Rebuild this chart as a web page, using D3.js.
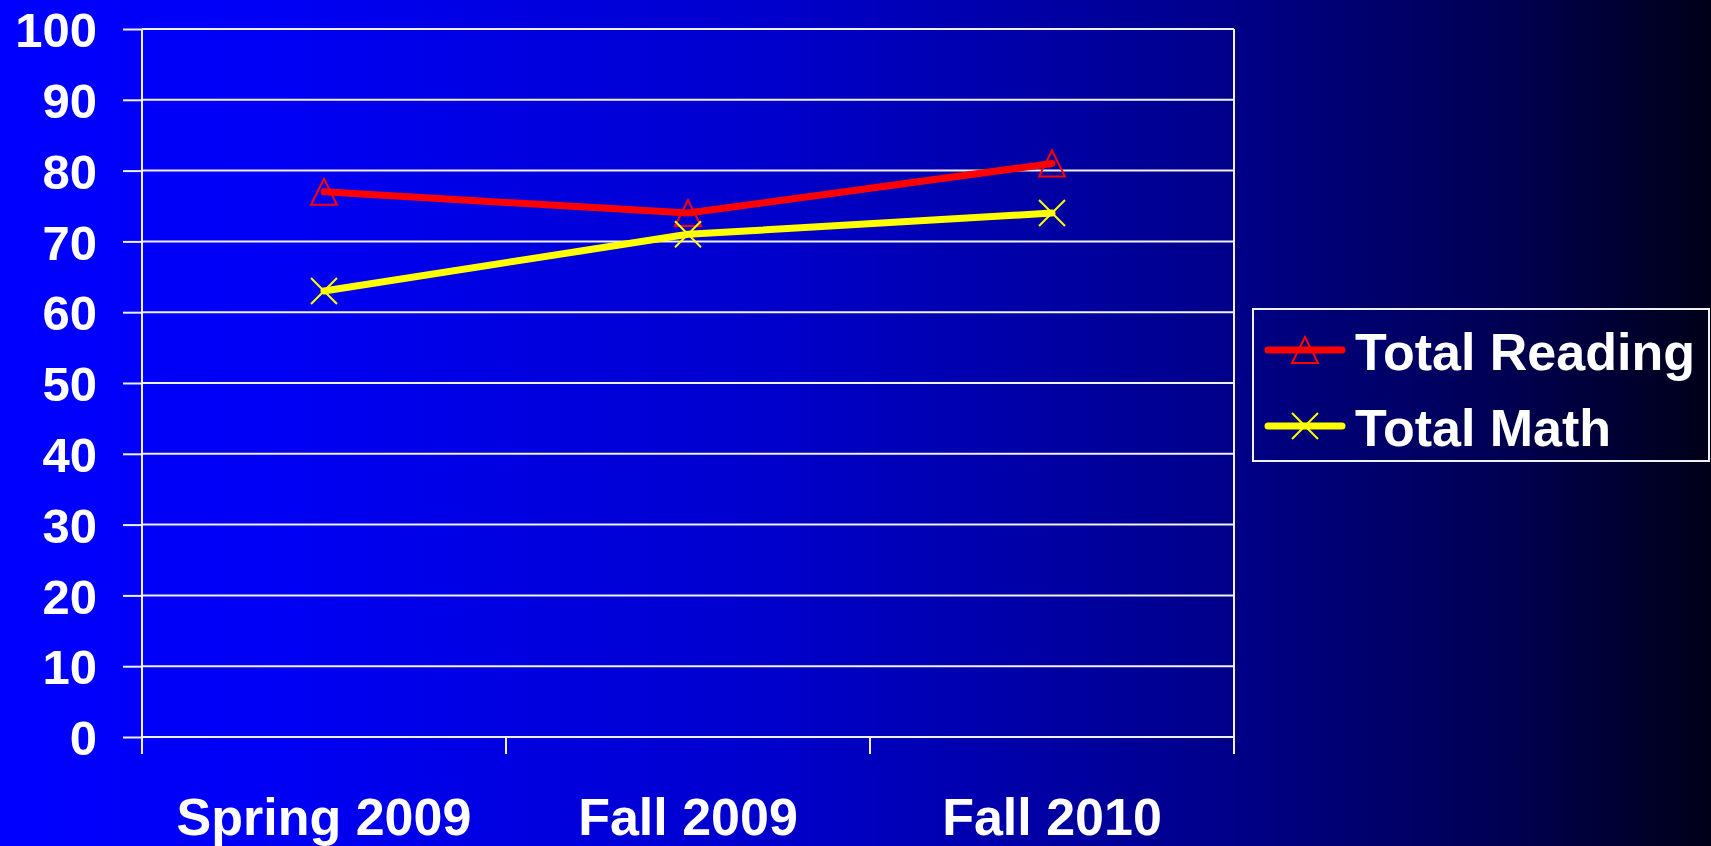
<!DOCTYPE html>
<html>
<head>
<meta charset="utf-8">
<script src="https://cdn.jsdelivr.net/npm/d3@7"></script>
<style>
  html, body { margin: 0; padding: 0; overflow: hidden; }
  svg { display: block; }
  text { font-family: "Liberation Sans", Arial, sans-serif; font-weight: bold; fill: #ffffff; }
</style>
</head>
<body>
<script>
const categories = ["Spring 2009", "Fall 2009", "Fall 2010"];
const readingValues = [77, 74, 81];
const mathValues = [63, 71, 74];
const seriesNames = ["Total Reading", "Total Math"];
const yTicks = [0, 10, 20, 30, 40, 50, 60, 70, 80, 90, 100];

const W = 1711, H = 846;
const plot = { left: 142, right: 1234, top: 29, bottom: 737 };

const svg = d3.select("body").append("svg").attr("width", W).attr("height", H);

const defs = svg.append("defs");
const grad = defs.append("linearGradient").attr("id", "bg").attr("x1", 0).attr("x2", 1).attr("y1", 0).attr("y2", 0);
[[0, "#0000ff"], [0.15, "#0000f6"], [0.45, "#0000cc"], [0.72, "#000088"], [0.88, "#000052"], [1, "#000018"]]
  .forEach(([o, c]) => grad.append("stop").attr("offset", o).attr("stop-color", c));
svg.append("rect").attr("width", W).attr("height", H).attr("fill", "url(#bg)");

const x = d3.scaleBand().domain(categories).range([plot.left, plot.right]).paddingInner(0).paddingOuter(0);
const y = d3.scaleLinear().domain([0, 100]).range([plot.bottom, plot.top]);

// gridlines
svg.append("g").selectAll("line").data(yTicks).join("line")
  .attr("x1", plot.left).attr("x2", plot.right)
  .attr("y1", d => y(d)).attr("y2", d => y(d))
  .attr("stroke", "#f0f0f0").attr("stroke-width", 2);

// y axis
const yAxis = d3.axisLeft(y).tickValues(yTicks).tickSize(19).tickPadding(26).tickFormat(d3.format("d"));
const yg = svg.append("g").attr("transform", `translate(${plot.left},0)`).call(yAxis);
yg.select(".domain").remove();
yg.selectAll(".tick line").attr("stroke", "#f0f0f0").attr("stroke-width", 2);
yg.selectAll(".tick text").attr("font-size", 49).attr("fill", "#fff").attr("dy", "0.36em")
  .style("font-family", "'Liberation Sans', Arial, sans-serif").style("font-weight", "bold");
svg.append("line").attr("x1", plot.left).attr("x2", plot.left).attr("y1", plot.top).attr("y2", plot.bottom + 17)
  .attr("stroke", "#f0f0f0").attr("stroke-width", 2);

// right border
svg.append("line").attr("x1", plot.right).attr("x2", plot.right).attr("y1", plot.top).attr("y2", plot.bottom + 17)
  .attr("stroke", "#f0f0f0").attr("stroke-width", 2);

// x axis ticks at band boundaries
const bounds = categories.map(c => x(c)).concat([plot.right]);
svg.append("g").selectAll("line").data(bounds).join("line")
  .attr("x1", d => d).attr("x2", d => d).attr("y1", plot.bottom).attr("y2", plot.bottom + 17)
  .attr("stroke", "#f0f0f0").attr("stroke-width", 2);

// x labels
svg.append("g").selectAll("text").data(categories).join("text")
  .attr("x", d => x(d) + x.bandwidth() / 2).attr("y", 835)
  .attr("text-anchor", "middle").attr("font-size", 52).text(d => d);

const cx = (d, i) => x(categories[i]) + x.bandwidth() / 2;
const line = d3.line().x((d, i) => cx(d, i)).y(d => y(d));

const series = [
  { name: seriesNames[0], values: readingValues, color: "#ff0000", marker: "tri" },
  { name: seriesNames[1], values: mathValues, color: "#ffff00", marker: "x" }
];

function drawMarker(g, type, px, py, color) {
  if (type === "tri") {
    g.append("path").attr("d", `M${px},${py - 13} L${px + 13},${py + 13} L${px - 13},${py + 13} Z`)
      .attr("fill", "none").attr("stroke", color).attr("stroke-width", 2);
  } else {
    g.append("path").attr("d", `M${px - 13},${py - 13} L${px + 13},${py + 13} M${px + 13},${py - 13} L${px - 13},${py + 13}`)
      .attr("fill", "none").attr("stroke", color).attr("stroke-width", 2);
  }
}

series.forEach(s => {
  const g = svg.append("g");
  g.append("path").datum(s.values).attr("d", line)
    .attr("fill", "none").attr("stroke", s.color).attr("stroke-width", 7)
    .attr("stroke-linecap", "round").attr("stroke-linejoin", "round");
  s.values.forEach((v, i) => drawMarker(g, s.marker, cx(v, i), y(v), s.color));
});

// legend
const lg = svg.append("g");
lg.append("rect").attr("x", 1253).attr("y", 309).attr("width", 456).attr("height", 152)
  .attr("fill", "none").attr("stroke", "#f0f0f0").attr("stroke-width", 2);
series.forEach((s, i) => {
  const ly = 350 + i * 76;
  lg.append("line").attr("x1", 1268).attr("x2", 1342).attr("y1", ly).attr("y2", ly)
    .attr("stroke", s.color).attr("stroke-width", 7).attr("stroke-linecap", "round");
  drawMarker(lg, s.marker, 1305, ly, s.color);
  lg.append("text").attr("x", 1355).attr("y", ly + 20).attr("font-size", 52).text(s.name);
});
</script>
</body>
</html>
